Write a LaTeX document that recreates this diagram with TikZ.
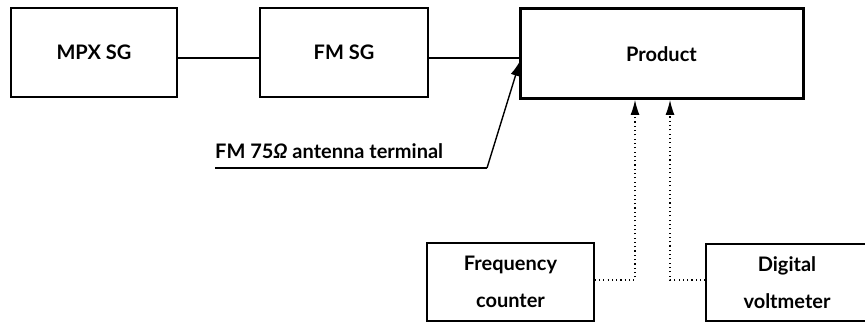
\documentclass[tikz,border=0pt]{standalone}
\usepackage{fontspec}
\setmainfont{Lato}
\usetikzlibrary{arrows.meta,calc}
\begin{document}
\begin{tikzpicture}[x=1pt,y=-1pt,
  txt/.style={font=\fontsize{20}{22}\selectfont\bfseries},
  box/.style={draw,line width=1.2pt,inner sep=0pt,txt},
  thick box/.style={box,line width=3pt},
  conn/.style={line width=1.2pt},
  dotconn/.style={line width=1.1pt,dash pattern=on 1.1pt off 3.2pt,-{Latex[length=15pt,width=9pt]}},
  tipconn/.style={line width=1.4pt,-{Latex[length=15pt,width=10pt]}}]
\useasboundingbox (0,0) rectangle (865,331);
\node[box,minimum width=166pt,minimum height=89pt] (mpx) at (94,52.5) {MPX SG};
\node[box,minimum width=168pt,minimum height=89pt] (fm) at (344,52.5) {FM SG};
\node[thick box,minimum width=283pt,minimum height=90pt] (prod) at (661.5,54) {Product};
\node[box,minimum width=167pt,minimum height=78pt,align=center] (freq) at (510.5,282) {Frequency\\[15pt]counter};
\node[box,minimum width=162pt,minimum height=77pt,align=center] (dvm) at (787,282.5) {Digital\\[15pt]voltmeter};
\node[txt,anchor=base west,inner sep=0pt] (lab) at (215,159) {FM 75\textit{Ω} antenna terminal};
\coordinate (ul) at (215,168);
\coordinate (bend) at (487,168);
\coordinate (tip) at (520,61);
\draw[conn] ([yshift=-5.5pt]mpx.east) -- ([yshift=-5.5pt]fm.west);
\draw[conn] ([yshift=-5.5pt]fm.east) -- ([yshift=-4pt]prod.west);
\draw[conn] (ul) -- (bend);
\draw[tipconn] (bend) -- (tip);
\draw[dotconn] ([yshift=2pt]freq.east) -- (635,280) -- (635,100);
\draw[dotconn] ([yshift=2.5pt]dvm.west) -- (670,280) -- (670,100);
\end{tikzpicture}
\end{document}
